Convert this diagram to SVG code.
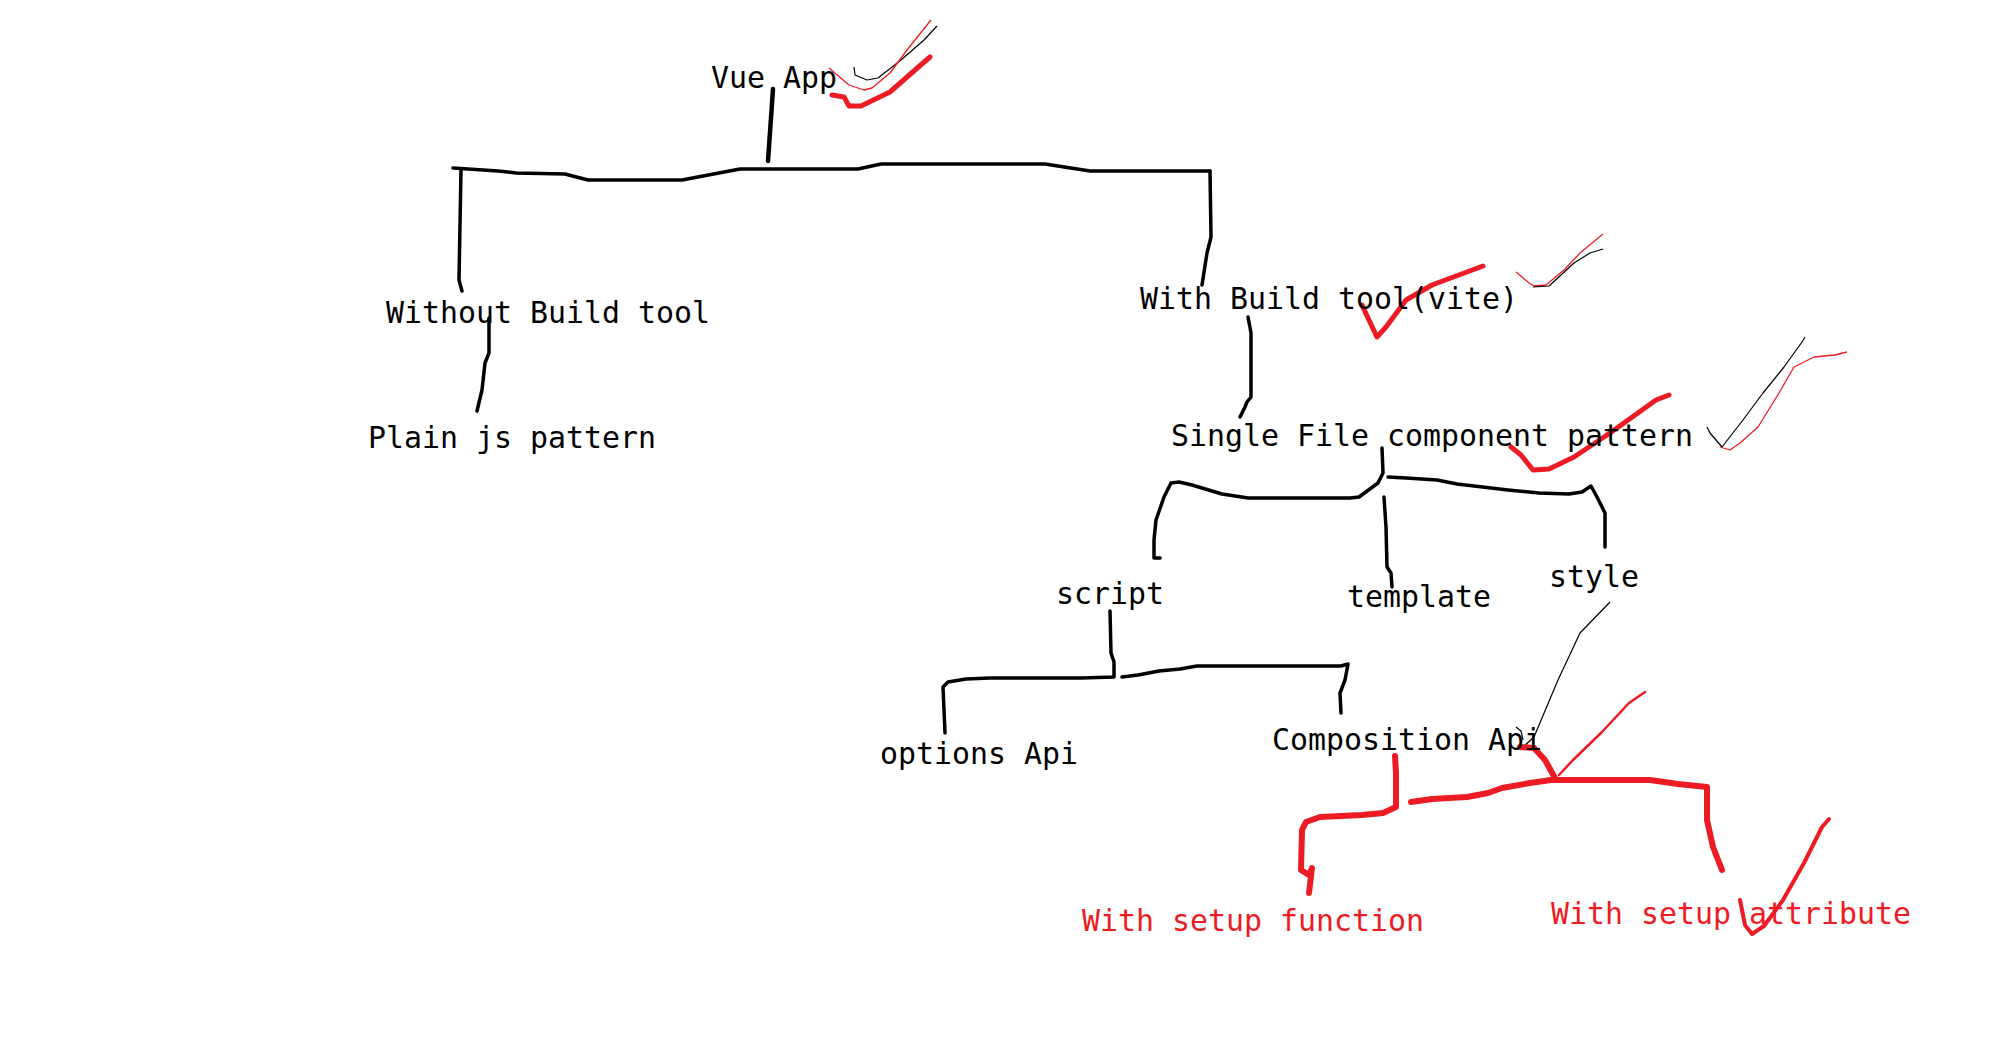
<svg xmlns="http://www.w3.org/2000/svg" width="1992" height="1053" viewBox="0 0 1992 1053">
<style>
text{font-family:"DejaVu Sans Mono","Liberation Mono",monospace;font-size:29.9px;fill:#000}
text.red{fill:#ed1c24}
.ln{fill:none;stroke:#000;stroke-width:3.5;stroke-linejoin:round;stroke-linecap:round}
.thin{fill:none;stroke:#000;stroke-width:1.2;stroke-linejoin:round}
.rthin{fill:none;stroke:#ed1c24;stroke-width:1.3;stroke-linejoin:round}
.rl{fill:none;stroke:#ed1c24;stroke-width:6;stroke-linejoin:round;stroke-linecap:round}
.rck{fill:none;stroke:#ed1c24;stroke-width:4;stroke-linejoin:round;stroke-linecap:round}
</style>
<rect width="1992" height="1053" fill="#fff"/>
<g id="connectors">
<polyline class="ln" points="773,89 768,161" style="stroke-width:4.5"/>
<polyline class="ln" points="453,168 498,171 516,173 565,174 588,180 682,180 740,169 858,169 881,164 1045,164 1090,171 1210,171"/>
<polyline class="ln" points="461,170 459,280 462,291"/>
<polyline class="ln" points="1210,171 1211,237 1207,253 1202,285"/>
<polyline class="ln" points="489,318 489,353 485,363 482,390 477,411"/>
<polyline class="ln" points="1248,317 1251,333 1251,397 1247,402 1245,407 1240,417"/>
<polyline class="ln" points="1382,448 1383,473 1378,483 1359,497 1350,498 1248,498 1222,494 1192,485 1179,482 1171,483 1164,497 1156,520 1154,540 1154,558 1160,558"/>
<polyline class="ln" points="1388,477 1406,478 1437,480 1457,484 1508,490 1539,493 1569,494 1582,492 1591,486 1597,497 1605,513 1605,547"/>
<polyline class="ln" points="1384,497 1386,527 1387,567 1391,573 1392,587"/>
<polyline class="ln" points="1110,611 1111,653 1114,662 1114,677 1081,678 990,678 966,679 948,682 943,687 945,733"/>
<polyline class="ln" points="1122,677 1138,675 1159,671 1180,669 1197,666 1341,666 1348,664 1345,680 1340,693 1341,713"/>
<polyline class="thin" points="1610,602 1580,633 1558,680 1534,737 1523,747"/>
<polyline class="thin" points="1516,727 1521,731 1523,740"/>
<polyline class="rl" points="1395,756 1396,773 1396,807 1383,813 1362,815 1320,817 1306,822 1302,830 1301,870 1309,875 1312,868 1309,893"/>
<polyline class="rl" points="1411,802 1432,799 1467,797 1488,793 1502,788 1530,783 1551,780 1650,780 1678,784 1707,787 1707,820 1713,847 1722,870"/>
<polyline class="rl" points="1555,778 1545,760 1534,748 1520,747"/>
<polyline class="rck" points="1559,775 1573,760 1601,733 1629,703 1645,692" style="stroke-width:2.5"/>
</g>
<g id="checkmarks">
<polyline class="thin" points="854,67 855,75 867,80 878,78 901,60 924,40 937,26"/>
<polyline class="rthin" points="829,68 849,85 864,90 872,88 890,73 907,50 931,20"/>
<polyline class="rck" points="832,95 844,97 849,106 861,106 890,92 915,70 930,57" style="stroke-width:5"/>
<polyline class="rck" points="1362,305 1368,318 1377,337 1386,327 1406,300 1432,285 1483,266" style="stroke-width:5"/>
<polyline class="rthin" points="1516,272 1529,283 1534,286 1546,285 1564,270 1580,253 1603,234"/>
<polyline class="thin" points="1533,287 1549,286 1574,263 1590,253 1603,249"/>
<polyline class="rck" points="1511,447 1521,455 1533,470 1549,469 1574,457 1610,433 1656,400 1669,395" style="stroke-width:5"/>
<polyline class="thin" points="1707,427 1710,433 1722,447 1743,420 1763,393 1784,367 1802,342 1805,337"/>
<polyline class="rthin" points="1720,447 1730,450 1740,443 1758,427 1779,393 1794,367 1814,357 1835,355 1847,352"/>
<polyline class="rck" points="1740,900 1745,925 1752,934 1764,926 1783,900 1804,863 1822,827 1829,819"/>
</g>
<g id="node-vue-app"><text x="711" y="88">Vue App</text></g>
<g id="node-without-build"><text x="386" y="323">Without Build tool</text></g>
<g id="node-plain-js"><text x="368" y="448">Plain js pattern</text></g>
<g id="node-with-build"><text x="1140" y="309">With Build tool(vite)</text></g>
<g id="node-sfc"><text x="1171" y="446">Single File component pattern</text></g>
<g id="node-script"><text x="1056" y="604">script</text></g>
<g id="node-template"><text x="1347" y="607">template</text></g>
<g id="node-style"><text x="1549" y="587">style</text></g>
<g id="node-options"><text x="880" y="764">options Api</text></g>
<g id="node-composition"><text x="1272" y="750">Composition Api</text></g>
<g id="node-setup-function"><text class="red" x="1082" y="931">With setup function</text></g>
<g id="node-setup-attribute"><text class="red" x="1551" y="924">With setup attribute</text></g>
</svg>
